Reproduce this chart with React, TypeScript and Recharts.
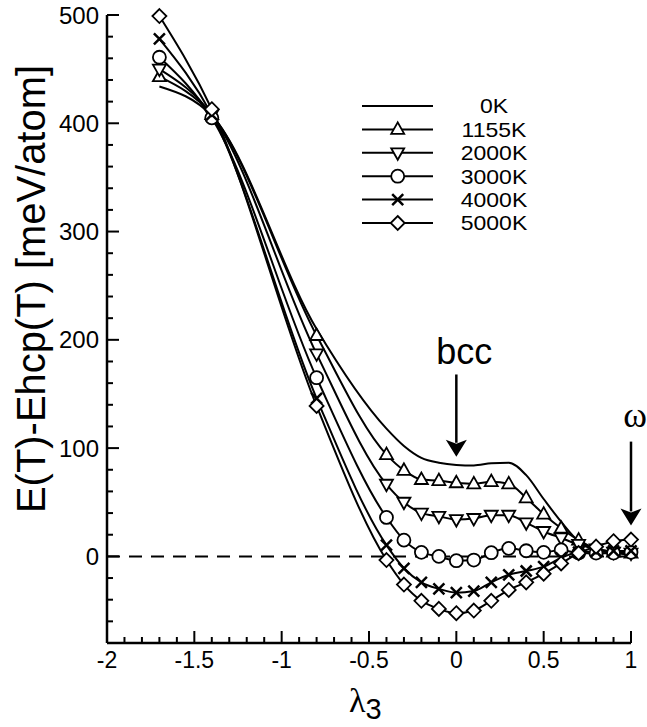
import React from "react";
import { LineChart, Line, XAxis, YAxis, ReferenceLine, Legend } from "recharts";

// lambda_3 values where the energies were sampled
const lambda = [-1.7, -1.4, -0.8, -0.4, -0.3, -0.2, -0.1, 0, 0.1, 0.2, 0.3, 0.4, 0.5, 0.6, 0.7, 0.8, 0.9, 1.0];

// E(T)-Ehcp(T) in meV/atom
const e0K = [434, 407, 210, 118, 102, 91, 86.5, 84.5, 84, 86, 86.5, 75, 53, 32, 14, 6, 3, 1.5];
const e1155K = [443, 408, 204, 94, 79.5, 71, 70, 68, 67, 69, 67, 54, 39, 26, 15, 7, 4, 3];
const e2000K = [450, 408, 187, 66.6, 50, 40, 37, 34, 35, 38, 38, 31, 23, 17, 11, 7, 4, 3];
const e3000K = [461, 405, 165, 36, 15, 3.7, 0, -4, -3.4, 3.4, 7.4, 5.2, 3.7, 6, 3, 3, 3, 3.7];
const e4000K = [478, 408, 146, 10.4, -11, -24, -30, -33.5, -32, -24, -17, -13.5, -9.5, -1.5, 4, 4.5, 5, 5];
const e5000K = [499, 413, 139, -3.4, -26, -41, -48.5, -52.5, -50, -41, -31, -24, -16, -6.5, 3, 9, 14, 15.5];

const seriesNames = ["0K", "1155K", "2000K", "3000K", "4000K", "5000K"];
const seriesValues = [e0K, e1155K, e2000K, e3000K, e4000K, e5000K];
const markerKinds = ["none", "triUp", "triDown", "circle", "cross", "diamond"];

const xMajorTicks = [-2, -1.5, -1, -0.5, 0, 0.5, 1];
const yMajorTicks = [0, 100, 200, 300, 400, 500];

const xAllTicks = Array.from({ length: 31 }, (_, i) => Math.round((-2 + i * 0.1) * 10) / 10);
const yAllTicks = Array.from({ length: 30 }, (_, i) => -80 + i * 20);

const data = lambda.map((l, i) => {
  const row: Record<string, number> = { lambda: l };
  seriesNames.forEach((n, k) => {
    row[n] = seriesValues[k][i];
  });
  return row;
});

const FONT = "'Liberation Sans', Arial, Helvetica, sans-serif";
const SERIF = "'Liberation Serif', 'DejaVu Serif', serif";

function Marker({ kind, cx, cy }: { kind: string; cx: number; cy: number }) {
  const st = { stroke: "#000", strokeWidth: 1.8, fill: "#fff" };
  if (kind === "triUp") {
    return <polygon points={`${cx},${cy - 7} ${cx - 6.5},${cy + 4.5} ${cx + 6.5},${cy + 4.5}`} {...st} />;
  }
  if (kind === "triDown") {
    return <polygon points={`${cx},${cy + 7} ${cx - 6.5},${cy - 4.5} ${cx + 6.5},${cy - 4.5}`} {...st} />;
  }
  if (kind === "circle") {
    return <circle cx={cx} cy={cy} r={6.5} {...st} />;
  }
  if (kind === "diamond") {
    return <polygon points={`${cx},${cy - 7} ${cx + 7},${cy} ${cx},${cy + 7} ${cx - 7},${cy}`} {...st} />;
  }
  if (kind === "cross") {
    const d = 5.5;
    return (
      <path
        d={`M${cx - d},${cy - d}L${cx + d},${cy + d}M${cx - d},${cy + d}L${cx + d},${cy - d}`}
        stroke="#000"
        strokeWidth={2.5}
      />
    );
  }
  return null;
}

const XTick = (props: any) => {
  const { x, y, payload } = props;
  const v = payload.value;
  const major = xMajorTicks.some((t) => Math.abs(t - v) < 1e-6);
  return (
    <g>
      <line x1={x} x2={x} y1={y} y2={y - (major ? 12 : 6)} stroke="#000" strokeWidth={2} />
      {major && (
        <text x={x} y={y + 25} textAnchor="middle" fontSize={23} fontFamily={FONT} fill="#000">
          {String(v)}
        </text>
      )}
    </g>
  );
};

const YTick = (props: any) => {
  const { x, y, payload } = props;
  const v = payload.value;
  const major = yMajorTicks.includes(v);
  return (
    <g>
      <line x1={x} x2={x + (major ? 12 : 6)} y1={y} y2={y} stroke="#000" strokeWidth={2} />
      {major && (
        <text x={x - 8} y={y + 8.5} textAnchor="end" fontSize={24} fontFamily={FONT} fill="#000">
          {String(v)}
        </text>
      )}
    </g>
  );
};

const XLabel = () => (
  <text x={349} y={712} fill="#000">
    <tspan fontFamily={SERIF} fontSize={34}>λ</tspan>
    <tspan fontFamily={FONT} fontSize={29} dy={7}>3</tspan>
  </text>
);

const YLabel = () => (
  <text
    x={45}
    y={289}
    transform="rotate(-90 45 289)"
    textAnchor="middle"
    fontSize={41}
    textLength={448}
    lengthAdjust="spacingAndGlyphs"
    fontFamily={FONT}
    fill="#000"
  >
    E(T)-Ehcp(T) [meV/atom]
  </text>
);

const Arrow = (label: string, dx: number, dy: number, font: string, size: number) => (props: any) => {
  const { x1, y1, x2, y2 } = props;
  const head = 17;
  const half = 10.5;
  return (
    <g>
      <text x={x1 + dx} y={y1 - dy} textAnchor="middle" fontSize={size} fontFamily={font} fill="#000">
        {label}
      </text>
      <line x1={x1} y1={y1} x2={x2} y2={y2 - head + 3} stroke="#000" strokeWidth={2.5} />
      <path
        d={`M${x2},${y2} L${x2 - half},${y2 - head} L${x2},${y2 - head + 4} L${x2 + half},${y2 - head} Z`}
        fill="#000"
      />
    </g>
  );
};

const LegendBox = () => (
  <svg width={200} height={150}>
    {seriesNames.map((n, i) => {
      const y = 12 + i * 23.4;
      return (
        <g key={n}>
          <line x1={7} x2={78} y1={y} y2={y} stroke="#000" strokeWidth={2} />
          <Marker kind={markerKinds[i]} cx={42.7} cy={y} />
          <text
            x={139}
            y={y + 7.5}
            textAnchor="middle"
            fontSize={20}
            fontFamily={FONT}
            fill="#000"
            transform={`translate(139 0) scale(1.15 1) translate(-139 0)`}
          >
            {n}
          </text>
        </g>
      );
    })}
  </svg>
);

export default function App() {
  return (
    <div style={{ position: "absolute", left: 0, top: 0, width: 647, height: 727, background: "#fff" }}>
      <LineChart
        width={647}
        height={727}
        data={data}
        margin={{ top: 15, right: 16, bottom: 83, left: 106 }}
      >
        <XAxis
          dataKey="lambda"
          type="number"
          domain={[-2, 1]}
          ticks={xAllTicks}
          interval={0}
          tick={<XTick />}
          tickLine={false}
          tickSize={0}
          tickMargin={0}
          height={1}
          axisLine={{ stroke: "#000", strokeWidth: 2.5 }}
          label={<XLabel />}
        />
        <YAxis
          type="number"
          domain={[-80, 500]}
          ticks={yAllTicks}
          interval={0}
          tick={<YTick />}
          tickLine={false}
          tickSize={0}
          tickMargin={0}
          width={1}
          axisLine={{ stroke: "#000", strokeWidth: 2.5 }}
          label={<YLabel />}
        />
        <ReferenceLine y={0} stroke="#000" strokeWidth={2} strokeDasharray="13 9" />
        <ReferenceLine
          segment={[
            { x: 0, y: 168 },
            { x: 0, y: 92 },
          ]}
          shape={Arrow("bcc", 8, 10, FONT, 36)}
        />
        <ReferenceLine
          segment={[
            { x: 1, y: 106 },
            { x: 1, y: 28.6 },
          ]}
          shape={Arrow("ω", 4, 15, SERIF, 36)}
        />
        {seriesNames.map((n, k) => (
          <Line
            key={n}
            dataKey={n}
            name={n}
            type="monotone"
            stroke="#000"
            strokeWidth={2}
            isAnimationActive={false}
            dot={
              markerKinds[k] === "none"
                ? false
                : (p: any) => <Marker key={`${n}-${p.index}`} kind={markerKinds[k]} cx={p.cx} cy={p.cy} />
            }
            activeDot={false}
          />
        ))}
        <Legend
          layout="vertical"
          align="center"
          verticalAlign="middle"
          content={<LegendBox />}
          wrapperStyle={{ left: 355, top: 94, width: 200, height: 150 }}
        />
      </LineChart>
    </div>
  );
}
